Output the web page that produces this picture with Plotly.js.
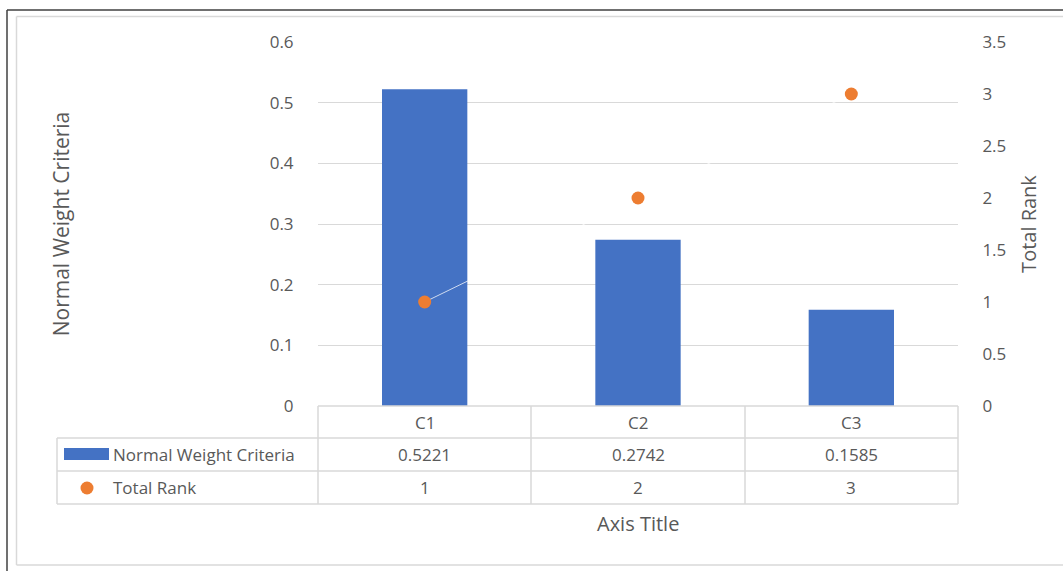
<!DOCTYPE html>
<html>
<head>
<meta charset="utf-8">
<script src="https://cdn.plot.ly/plotly-3.0.1.min.js"></script>
<style>
  html, body { margin: 0; padding: 0; background: #fff; }
  #chart { width: 1063px; height: 571px; }
</style>
</head>
<body>
<div id="chart"></div>
<script>
const categories = ['C1', 'C2', 'C3'];
const normalWeight = [0.5221, 0.2742, 0.1585];
const totalRank = [1, 2, 3];
const seriesNames = ['Normal Weight Criteria', 'Total Rank'];
const leftTitle = 'Normal Weight Criteria';
const rightTitle = 'Total Rank';
const xTitle = 'Axis Title';

// plot area in pixels
const L = 318, R = 958, T = 42, B = 406;
const W = R - L, H = B - T;
const px = x => (x - L) / W;
const py = y => (B - y) / H;

const FONT = '"Open Sans", Lato, sans-serif';
const TXT = '#595959';
const GRID = '#d9d9d9';
const BLUE = '#4472C4';
const ORANGE = '#ED7D31';
const FS = 17, TS = 20;

const traces = [
  {
    type: 'bar', x: categories, y: normalWeight, name: seriesNames[0],
    marker: { color: BLUE }, width: 0.4, yaxis: 'y', hoverinfo: 'x+y'
  },
  {
    type: 'scatter', mode: 'lines+markers', x: categories, y: totalRank, name: seriesNames[1],
    line: { color: 'rgba(255,255,255,0.75)', width: 1 },
    marker: { color: ORANGE, size: 13 }, yaxis: 'y2', hoverinfo: 'x+y'
  }
];

// table geometry (pixels)
const rowLines = [406, 438, 471, 504];
const colEdges = [318, 531, 745, 958];
const tableLeft = 57;

const shapes = [];
const line = (x0, y0, x1, y1, color, w) => shapes.push({
  type: 'line', xref: 'paper', yref: 'paper',
  x0: px(x0), y0: py(y0), x1: px(x1), y1: py(y1),
  line: { color: color, width: w }
});
line(L, rowLines[0], R, rowLines[0], GRID, 1.5);
for (let i = 1; i < rowLines.length; i++) line(tableLeft, rowLines[i], R, rowLines[i], GRID, 1.5);
colEdges.forEach(x => line(x, rowLines[0], x, rowLines[3], GRID, 1.5));
line(tableLeft, rowLines[1], tableLeft, rowLines[3], GRID, 1.5);
// outer frame
line(7, 10, 1070, 10, '#404040', 1.5);
line(7, 10, 7, 580, '#404040', 1.5);
line(16.5, 16.5, 1070, 16.5, GRID, 1.5);
line(16.5, 16.5, 16.5, 565, GRID, 1.5);
line(16.5, 565, 1070, 565, GRID, 1.5);
// legend keys in table
shapes.push({ type: 'rect', xref: 'paper', yref: 'paper',
  x0: px(64), x1: px(109), y0: py(448), y1: py(460),
  fillcolor: BLUE, line: { width: 0 } });
shapes.push({ type: 'circle', xref: 'paper', yref: 'paper',
  x0: px(80.5), x1: px(93.5), y0: py(481.5), y1: py(494.5),
  fillcolor: ORANGE, line: { width: 0 } });

const annotations = [];
const rowMid = i => py((rowLines[i] + rowLines[i + 1]) / 2);
const f = s => ({ family: FONT, size: s, color: TXT });
categories.forEach((c, i) => {
  annotations.push({ x: c, xref: 'x', y: rowMid(0), yref: 'paper', yanchor: 'middle', text: c, showarrow: false, font: f(FS) });
  annotations.push({ x: c, xref: 'x', y: rowMid(1), yref: 'paper', yanchor: 'middle', text: normalWeight[i].toFixed(4), showarrow: false, font: f(FS) });
  annotations.push({ x: c, xref: 'x', y: rowMid(2), yref: 'paper', yanchor: 'middle', text: String(totalRank[i]), showarrow: false, font: f(FS) });
});
seriesNames.forEach((n, i) => {
  annotations.push({ x: px(111), xref: 'paper', xanchor: 'left', y: rowMid(i + 1), yref: 'paper', yanchor: 'middle',
    text: n, showarrow: false, font: f(FS) });
});
annotations.push({ x: px(638), xref: 'paper', y: py(523), yref: 'paper', yanchor: 'middle', text: xTitle, showarrow: false, font: f(TS) });

const layout = {
  width: 1063, height: 571,
  margin: { l: L, r: 1063 - R, t: T, b: 571 - B, pad: 0 },
  paper_bgcolor: '#fff', plot_bgcolor: '#fff',
  showlegend: false,
  font: { family: FONT, color: TXT, size: FS },
  xaxis: { type: 'category', range: [-0.5, 2.5], showticklabels: false, showgrid: false,
    zeroline: false, showline: false, ticks: '', fixedrange: true },
  yaxis: {
    range: [0, 0.6], dtick: 0.1, tick0: 0, showgrid: true, gridcolor: GRID, gridwidth: 1,
    zeroline: false, showline: false, ticks: 'outside', ticklen: 20, tickcolor: 'rgba(0,0,0,0)',
    tickfont: f(FS),
    title: { text: leftTitle, font: f(21), standoff: 194 }
  },
  yaxis2: {
    overlaying: 'y', side: 'right', range: [0, 3.5], dtick: 0.5, tick0: 0, showgrid: false,
    zeroline: false, showline: false, ticks: 'outside', ticklen: 20, tickcolor: 'rgba(0,0,0,0)',
    tickfont: f(FS),
    title: { text: rightTitle, font: f(TS), standoff: 16 }
  },
  shapes: shapes,
  annotations: annotations
};

Plotly.newPlot('chart', traces, layout, { staticPlot: true, displayModeBar: false });
</script>
</body>
</html>
